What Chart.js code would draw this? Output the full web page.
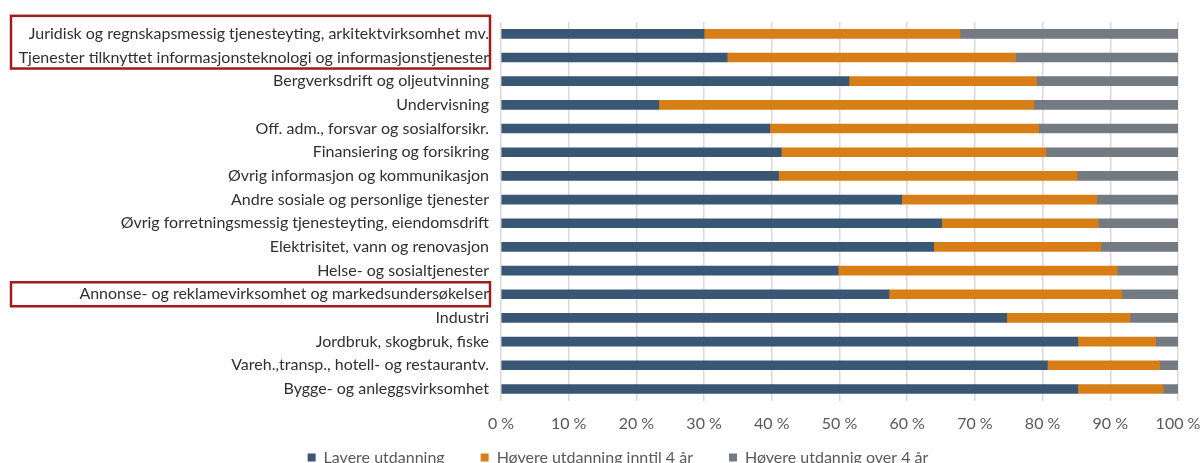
<!DOCTYPE html>
<html lang="no">
<head>
<meta charset="UTF-8">
<title>Utdanningsnivå etter næring</title>
<script src="https://cdn.jsdelivr.net/npm/chart.js"></script>
<style>
    body {
        margin: 0;
        background: #fff;
        overflow: hidden;
    }
    #chart-container {
        position: relative;
        width: 1201px;
        height: 508px;
    }
</style>
</head>
<body>

<div id="chart-container">
    <canvas id="eduChart"></canvas>
</div>

<script>
    // categories, top to bottom
    const categories = [
        'Juridisk og regnskapsmessig tjenesteyting, arkitektvirksomhet mv.',
        'Tjenester tilknyttet informasjonsteknologi og informasjonstjenester',
        'Bergverksdrift og oljeutvinning',
        'Undervisning',
        'Off. adm., forsvar og sosialforsikr.',
        'Finansiering og forsikring',
        'Øvrig informasjon og kommunikasjon',
        'Andre sosiale og personlige tjenester',
        'Øvrig forretningsmessig tjenesteyting, eiendomsdrift',
        'Elektrisitet, vann og renovasjon',
        'Helse- og sosialtjenester',
        'Annonse- og reklamevirksomhet og markedsundersøkelser',
        'Industri',
        'Jordbruk, skogbruk, fiske',
        'Vareh.,transp., hotell- og restaurantv.',
        'Bygge- og anleggsvirksomhet'
    ];

    // shares in percent
    const lavere        = [30.0, 33.4, 51.4, 23.3, 39.7, 41.4, 41.0, 59.2, 65.1, 63.9, 49.8, 57.3, 74.7, 85.2, 80.7, 85.2];
    const hoyereInntil4 = [37.8, 42.6, 27.7, 55.4, 39.7, 39.1, 44.1, 28.8, 23.1, 24.7, 41.2, 34.4, 18.2, 11.5, 16.6, 12.6];
    const hoyereOver4   = [32.2, 24.0, 20.9, 21.3, 20.6, 19.5, 14.9, 12.0, 11.8, 11.4,  9.0,  8.3,  7.1,  3.3,  2.7,  2.2];

    const seriesNames = ['Lavere utdanning', 'Høyere utdanning inntil 4 år', 'Høyere utdannig over 4 år'];
    const xTicks = [0, 10, 20, 30, 40, 50, 60, 70, 80, 90, 100];

    // categories marked with a red frame (index ranges)
    const highlighted = [[0, 1], [11, 11]];

    const FONT = 'Lato, "Liberation Sans", sans-serif';

    // draws the red frames around some of the y labels
    const framePlugin = {
        id: 'labelFrames',
        afterDraw(chart, args, opts) {
            const y = chart.scales.y;
            const ctx = chart.ctx;
            ctx.save();
            ctx.strokeStyle = opts.color;
            ctx.lineWidth = opts.lineWidth;
            highlighted.forEach(([from, to], i) => {
                const pad = opts.pads[i];
                const top = y.getPixelForValue(from) - pad[0];
                const bottom = y.getPixelForValue(to) + pad[1];
                ctx.strokeRect(opts.left, top, opts.right - opts.left, bottom - top);
            });
            ctx.restore();
        }
    };

    // moves the legend box: Excel puts it closer to the axis and a bit to the right
    const legendPlace = {
        id: 'legendPlace',
        afterLayout(chart, args, opts) {
            const lg = chart.legend;
            if (!lg) return;
            const h = lg.bottom - lg.top;
            const w = lg.right - lg.left;
            lg.top = opts.top;
            lg.bottom = opts.top + h;
            lg.left = opts.center - w / 2;
            lg.right = lg.left + w;
        }
    };

    const ctx = document.getElementById('eduChart').getContext('2d');
    const eduChart = new Chart(ctx, {
        type: 'bar',
        data: {
            labels: categories,
            datasets: [
                { label: seriesNames[0], data: lavere, backgroundColor: '#3a5675' },
                { label: seriesNames[1], data: hoyereInntil4, backgroundColor: '#d87e16' },
                { label: seriesNames[2], data: hoyereOver4, backgroundColor: '#737a82' }
            ]
        },
        options: {
            indexAxis: 'y',
            responsive: true,
            maintainAspectRatio: false,
            animation: false,
            datasets: {
                bar: { barThickness: 9, borderWidth: 0 }
            },
            layout: {
                padding: { left: 5, right: 23, top: 22, bottom: 0 }
            },
            scales: {
                x: {
                    stacked: true,
                    min: 0,
                    max: 100,
                    afterBuildTicks: scale => {
                        scale.ticks = xTicks.map(v => ({ value: v }));
                    },
                    afterFit: scale => {
                        scale.paddingLeft = 0;
                        scale.paddingRight = 0;
                    },
                    grid: { color: '#d9d9d9', lineWidth: 1.5, drawTicks: false },
                    border: { display: false },
                    ticks: {
                        padding: 13,
                        color: '#595959',
                        font: { family: FONT, size: 16 },
                        callback: v => v + ' %'
                    }
                },
                y: {
                    stacked: true,
                    afterFit: scale => { scale.width = 501 - 5; },
                    grid: { display: false, drawTicks: false },
                    border: { display: false },
                    ticks: {
                        autoSkip: false,
                        padding: 12,
                        color: '#303030',
                        font: { family: FONT, size: 16 }
                    }
                }
            },
            plugins: {
                legend: {
                    position: 'bottom',
                    labels: {
                        boxWidth: 8,
                        boxHeight: 8,
                        padding: 36,
                        color: '#595959',
                        font: { family: FONT, size: 16 }
                    }
                },
                tooltip: { enabled: false },
                labelFrames: {
                    color: '#9e1c1c',
                    lineWidth: 2.5,
                    left: 11,
                    right: 490,
                    pads: [[18, 11], [12, 12]]
                },
                legendPlace: {
                    top: 413.5,
                    center: 618
                }
            }
        },
        plugins: [framePlugin, legendPlace]
    });
</script>

</body>
</html>
